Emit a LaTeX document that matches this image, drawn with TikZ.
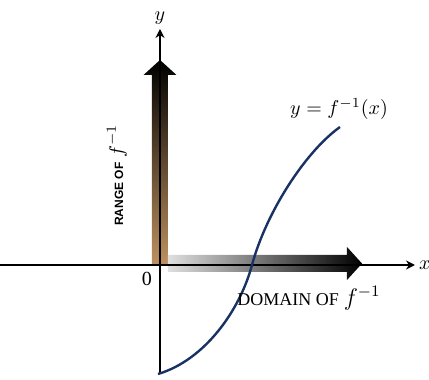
\documentclass[tikz,border=0pt]{standalone}
\usepackage{fontspec}
\setmainfont{Liberation Serif}
\setsansfont{Liberation Sans}
\usetikzlibrary{arrows.meta}
\definecolor{curveblue}{RGB}{25,50,100}
\definecolor{rangebrown}{RGB}{90,45,20}
\definecolor{rangetan}{RGB}{190,145,95}
\newcommand{\finv}{f^{-1}}
\newcommand{\caps}[1]{{\small #1}}

\begin{document}
\begin{tikzpicture}[x=0.5pt, y=0.5pt, line width=1pt,
    axis/.style={-{Stealth[length=4.5pt, width=4.5pt]}},
    curve/.style={curveblue, line width=1.2pt}]
  \useasboundingbox (-160,-115) rectangle (269,265);
  % thick arrows: range and domain
  \shade[top color=black, middle color=rangebrown, bottom color=rangetan]
    (-8,0) -- (-8,190) -- (-16.5,190) -- (0,205) -- (16.5,190) -- (8,190) -- (8,0) -- cycle;
  \shade[left color=gray!25, middle color=black!95, right color=black]
    (8,-7) -- (187,-7) -- (187,-15) -- (202,1.5) -- (187,18) -- (187,10) -- (8,10) -- cycle;
  % axes
  \coordinate (xl) at (-160,0);
  \coordinate (xr) at (255,0);
  \coordinate (yb) at (0,-109);
  \coordinate (yt) at (0,236);
  \draw[axis] (xl) -- (xr);
  \draw[axis] (yb) -- (yt);
  \node[above, inner sep=2pt] (ylab) at (yt) {$y$};
  \node[right, inner sep=1.5pt] (xlab) at (xr) {$x$};
  \node (zero) at (-13,-14) {0};
  % the curve
  \draw[curve] (-2,-109) .. controls (45,-95) and (80,-45) .. (92,0)
    .. controls (106,52) and (145,113) .. (180,138);
  \node (curvelab) at (179,156) {$y = \finv(x)$};
  \node[rotate=90] (rangelab) at (-43,90)
    {{\sffamily\bfseries\fontsize{6}{7}\selectfont RANGE OF} $\finv$};
  \node (domainlab) at (149,-33) {\caps{DOMAIN OF} \large$\finv$};
\end{tikzpicture}
\end{document}
